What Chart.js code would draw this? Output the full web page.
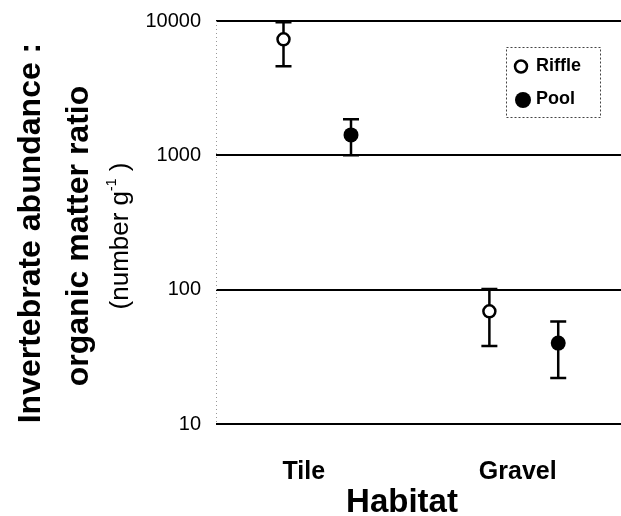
<!DOCTYPE html>
<html>
<head>
<meta charset="utf-8">
<script src="https://cdn.jsdelivr.net/npm/chart.js@4"></script>
<style>
  body { margin: 0; background: #fff; }
  #wrap { width: 621px; height: 516px; }
</style>
</head>
<body>
<div id="wrap"><canvas id="grafico" width="621" height="516"></canvas></div>
<script>
// dados
const categorias = ['Tile', 'Gravel'];
const posCategorias = [1.3, 4.47];
const yTicks = [10, 100, 1000, 10000];

const riffleX = [1, 4.05];
const riffleMedia = [7300, 69];
const riffleMin = [4600, 38];
const riffleMax = [9800, 101];

const poolX = [2, 5.07];
const poolMedia = [1420, 40];
const poolMin = [1000, 22];
const poolMax = [1860, 58];

const FONTE = "'Liberation Sans', Arial, sans-serif";

// barras de erro (desenhadas antes dos pontos) + eixo pontilhado
const barrasErro = {
    id: 'barrasErro',
    beforeDatasetsDraw(chart) {
        const ctx = chart.ctx;
        const x = chart.scales.x, y = chart.scales.y;
        const area = chart.chartArea;
        ctx.save();
        ctx.strokeStyle = '#999';
        ctx.lineWidth = 1;
        ctx.setLineDash([1, 3]);
        ctx.beginPath();
        ctx.moveTo(area.left + 0.5, area.top);
        ctx.lineTo(area.left + 0.5, area.bottom);
        ctx.stroke();
        ctx.setLineDash([]);

        const series = [[riffleX, riffleMin, riffleMax], [poolX, poolMin, poolMax]];
        ctx.strokeStyle = '#000';
        ctx.lineWidth = 2.5;
        series.forEach(([xs, lo, hi]) => {
            xs.forEach((xv, i) => {
                const px = x.getPixelForValue(xv);
                const p1 = y.getPixelForValue(lo[i]);
                const p2 = y.getPixelForValue(hi[i]);
                ctx.beginPath();
                ctx.moveTo(px, p1); ctx.lineTo(px, p2);
                ctx.moveTo(px - 8, p1); ctx.lineTo(px + 8, p1);
                ctx.moveTo(px - 8, p2); ctx.lineTo(px + 8, p2);
                ctx.stroke();
            });
        });
        ctx.restore();
    }
};

// legenda, titulos dos eixos
const extras = {
    id: 'extras',
    afterDraw(chart) {
        const ctx = chart.ctx;
        ctx.save();
        // caixa da legenda
        ctx.strokeStyle = '#444';
        ctx.lineWidth = 1;
        ctx.setLineDash([2, 2]);
        ctx.strokeRect(506.5, 47.5, 94, 70);
        ctx.setLineDash([]);
        ctx.lineWidth = 2.5;
        ctx.beginPath();
        ctx.arc(521, 66.5, 6, 0, Math.PI * 2);
        ctx.fillStyle = '#fff';
        ctx.fill();
        ctx.strokeStyle = '#000';
        ctx.stroke();
        ctx.beginPath();
        ctx.arc(523, 100, 8, 0, Math.PI * 2);
        ctx.fillStyle = '#000';
        ctx.fill();
        ctx.font = 'bold 18px ' + FONTE;
        ctx.textBaseline = 'middle';
        ctx.textAlign = 'left';
        ctx.fillText('Riffle', 536, 66);
        ctx.fillText('Pool', 536, 99);

        // titulo x
        ctx.textAlign = 'center';
        ctx.font = 'bold 33px ' + FONTE;
        ctx.fillText('Habitat', 402, 503);

        // titulo y
        ctx.rotate(-Math.PI / 2);
        ctx.textBaseline = 'alphabetic';
        ctx.font = 'bold 32px ' + FONTE;
        ctx.fillText('Invertebrate abundance :', -233, 40);
        ctx.fillText('organic matter ratio', -236, 88);
        const t1 = '(number g', t2 = ' )';
        ctx.font = '14px ' + FONTE;
        const wSup = ctx.measureText('-1').width;
        ctx.font = '26px ' + FONTE;
        const w1 = ctx.measureText(t1).width, w2 = ctx.measureText(t2).width;
        const inicio = -236 - (w1 + wSup + w2) / 2;
        ctx.textAlign = 'left';
        ctx.fillText(t1, inicio, 128);
        ctx.font = '14px ' + FONTE;
        ctx.fillText('-1', inicio + w1, 116);
        ctx.font = '26px ' + FONTE;
        ctx.fillText(t2, inicio + w1 + wSup, 128);
        ctx.restore();
    }
};

new Chart(document.getElementById('grafico'), {
    type: 'scatter',
    data: {
        datasets: [{
            label: 'Riffle',
            data: riffleX.map((x, i) => ({ x: x, y: riffleMedia[i] })),
            pointStyle: 'circle',
            pointRadius: 6,
            pointBorderWidth: 2.5,
            pointBackgroundColor: '#fff',
            pointBorderColor: '#000'
        }, {
            label: 'Pool',
            data: poolX.map((x, i) => ({ x: x, y: poolMedia[i] })),
            pointStyle: 'circle',
            pointRadius: 7.5,
            pointBorderWidth: 0,
            pointBackgroundColor: '#000',
            pointBorderColor: '#000'
        }]
    },
    options: {
        responsive: false,
        animation: false,
        layout: { autoPadding: false, padding: { top: 21, right: 0, left: 0, bottom: 0 } },
        plugins: { legend: { display: false }, tooltip: { enabled: false } },
        scales: {
            x: {
                type: 'linear',
                min: 0,
                max: 6,
                afterFit(s) { s.height = 92; s.paddingLeft = 0; s.paddingRight = 0; },
                afterBuildTicks(s) { s.ticks = posCategorias.map(v => ({ value: v })); },
                ticks: {
                    callback: (v, i) => categorias[i],
                    color: '#000',
                    padding: 33,
                    maxRotation: 0,
                    font: { family: FONTE, size: 25, weight: 'bold' }
                },
                grid: { display: false, drawTicks: false },
                border: { display: false }
            },
            y: {
                type: 'logarithmic',
                min: 10,
                max: 10000,
                afterFit(s) { s.width = 216; s.paddingTop = 0; s.paddingBottom = 0; },
                afterBuildTicks(s) { s.ticks = yTicks.map(v => ({ value: v })); },
                ticks: {
                    callback: v => String(v),
                    color: '#000',
                    padding: 15,
                    font: { family: FONTE, size: 20 }
                },
                grid: { color: '#000', lineWidth: 2, drawTicks: false },
                border: { display: false }
            }
        }
    },
    plugins: [barrasErro, extras]
});
</script>
</body>
</html>
